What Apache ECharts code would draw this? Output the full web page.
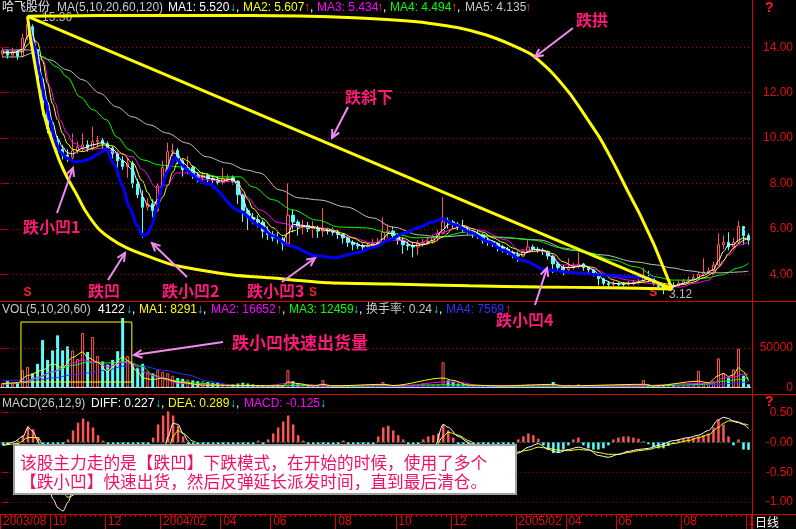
<!DOCTYPE html>
<html><head><meta charset="utf-8">
<script src="https://cdn.jsdelivr.net/npm/echarts@6/dist/echarts.min.js"></script>
<style>html,body{margin:0;padding:0;background:#000;}#c{width:796px;height:529px;}</style>
</head><body><div id="c"></div>
<script>
// ---- price bars: [open, close, low, high] ----
const ohlc = [
[13.7,13.85,13.55,13.95],[13.85,13.65,13.5,13.9],[13.65,13.8,13.55,14.0],[13.8,13.6,13.45,13.9],[13.6,14.4,13.55,14.6],
[14.5,15.0,14.3,15.36],[14.9,14.0,13.7,15.0],[13.9,12.6,12.4,13.9],[12.6,11.3,11.0,12.7],[11.3,10.4,10.2,11.5],
[10.4,9.9,9.7,10.7],[9.9,9.5,9.3,10.1],[9.5,9.25,9.05,9.7],[9.25,9.15,8.95,9.5],[9.15,9.45,9.0,10.2],
[9.45,9.6,9.3,9.85],[9.6,9.7,9.4,10.2],[9.7,9.55,9.4,9.9],[9.55,9.85,9.45,10.5],[9.85,9.9,9.6,10.1],
[9.9,9.75,9.55,10.0],[9.75,9.55,9.4,9.85],[9.55,9.3,9.1,9.65],[9.3,9.0,8.45,9.4],[9.0,8.75,8.6,9.2],
[8.75,8.9,8.25,9.1],[8.9,8.0,7.8,9.0],[8.0,7.5,7.35,8.2],[7.4,6.95,5.6,7.7],[6.95,7.1,6.8,7.35],
[7.1,6.8,6.5,7.3],[6.8,7.9,6.75,8.0],[7.9,8.7,7.8,9.0],[8.7,9.4,8.6,9.8],[9.4,9.45,9.2,9.75],
[9.45,9.0,8.85,9.55],[9.0,8.6,8.3,9.1],[8.6,8.7,8.4,9.2],[8.7,8.35,8.2,8.8],[8.35,8.25,8.05,8.5],
[8.25,8.35,8.1,8.5],[8.35,8.2,8.05,8.45],[8.2,8.15,8.0,8.35],[8.15,8.05,7.95,8.3],[8.05,8.2,7.95,8.7],
[8.2,8.25,8.05,8.4],[8.25,8.1,7.95,8.35],[8.1,7.5,7.1,8.15],[7.5,6.8,6.3,7.5],[6.8,6.5,5.95,6.9],
[6.5,6.4,6.2,6.7],[6.4,6.3,6.05,6.6],[6.3,5.9,5.6,6.4],[5.9,5.75,5.5,6.1],[5.75,5.6,5.45,5.9],
[5.6,5.55,5.35,5.85],[5.55,5.35,5.05,5.65],[5.35,6.6,5.3,8.0],[6.6,6.3,5.85,6.85],[6.3,6.1,5.7,6.4],
[6.1,6.15,5.75,6.4],[6.15,6.0,5.85,6.3],[6.0,6.05,5.6,6.35],[6.05,5.9,5.6,6.15],[5.9,6.0,5.65,6.9],
[6.0,5.9,5.75,6.05],[5.9,5.85,5.7,6.05],[5.85,5.75,5.55,5.95],[5.75,5.6,5.35,5.8],[5.6,5.4,5.2,5.65],
[5.4,5.3,5.05,5.5],[5.3,5.25,5.1,5.4],[5.25,5.2,5.0,5.35],[5.2,5.25,5.1,5.35],[5.25,5.35,5.15,5.55],
[5.35,5.4,5.2,5.6],[5.4,5.85,5.35,6.5],[5.85,5.9,5.6,6.2],[5.9,5.7,5.55,6.1],[5.7,5.5,5.3,5.8],
[5.5,5.3,4.9,5.6],[5.3,5.25,5.05,5.45],[5.25,5.2,4.75,5.4],[5.2,5.35,4.85,5.5],[5.35,5.4,5.2,5.55],
[5.4,5.45,5.3,5.6],[5.45,5.6,5.35,5.75],[5.6,5.8,5.5,5.95],[5.8,6.3,5.75,7.4],[6.35,6.3,6.0,6.5],
[6.3,6.2,6.0,6.4],[6.2,6.1,5.95,6.3],[6.1,6.0,5.85,6.4],[6.0,5.9,5.75,6.1],[5.9,5.8,5.6,6.0],
[5.8,5.75,5.55,5.9],[5.75,5.5,5.35,5.8],[5.5,5.4,5.25,5.6],[5.4,5.35,5.2,5.5],[5.35,5.2,5.0,5.4],
[5.2,5.1,4.95,5.3],[5.1,4.95,4.85,5.2],[4.95,4.85,4.7,5.05],[4.85,4.8,4.55,5.0],[4.8,5.0,4.75,5.1],
[5.0,5.2,4.95,5.5],[5.2,5.1,5.0,5.3],[5.1,5.05,4.95,5.2],[5.05,5.0,4.85,5.15],[5.0,4.8,4.65,5.05],
[4.8,4.45,4.05,4.85],[4.45,4.3,4.1,4.55],[4.3,4.2,3.95,4.4],[4.2,4.3,4.1,4.7],[4.3,4.35,4.2,4.5],
[4.35,4.45,4.25,4.95],[4.45,4.3,4.15,4.5],[4.3,4.2,4.05,4.35],[4.2,4.0,3.9,4.25],[4.0,3.8,3.5,4.05],
[3.8,3.6,3.5,3.85],[3.6,3.55,3.45,3.7],[3.55,3.6,3.45,3.7],[3.6,3.55,3.45,3.65],[3.58,3.55,3.45,3.65],
[3.55,3.6,3.5,3.7],[3.6,3.65,3.5,3.75],[3.65,3.7,3.55,3.8],[3.7,3.85,3.65,4.3],[3.85,3.8,3.65,4.15],
[3.8,3.6,3.5,3.85],[3.6,3.45,3.35,3.65],[3.45,3.35,3.12,3.5],[3.35,3.5,3.25,3.6],[3.52,3.5,3.4,3.65],
[3.5,3.6,3.45,3.7],[3.6,3.7,3.55,3.8],[3.7,3.75,3.6,3.9],[3.75,3.85,3.7,4.0],[3.85,4.0,3.8,4.1],
[4.0,4.1,3.9,4.7],[4.1,4.15,4.0,4.3],[4.15,4.4,4.1,4.55],[4.4,5.3,4.35,5.8],[5.3,5.4,5.1,5.7],
[5.4,5.2,5.05,5.85],[5.2,5.4,5.1,5.6],[5.4,6.1,5.35,6.35],[6.1,5.7,5.3,6.1],[5.7,5.5,5.3,5.8]
];
// ---- price moving averages, read as [bar, value] ----
const ma1 = [[0,13.8],[2,13.75],[4,13.9],[5,14.5],[6,14.6],[7,13.7],[8,12.6],[9,11.6],[10,10.7],[11,10.0],[12,9.6],[13,9.35],[14,9.3],[16,9.55],[18,9.7],[20,9.8],[22,9.5],[24,9.0],[26,8.6],[27,8.1],[28,7.4],[29,7.05],[30,6.95],[31,7.3],[32,8.0],[33,8.8],[34,9.35],[35,9.3],[36,8.9],[38,8.55],[40,8.3],[42,8.2],[44,8.1],[46,8.2],[47,7.9],[48,7.3],[49,6.8],[50,6.5],[52,6.2],[54,5.75],[56,5.5],[57,5.8],[58,6.2],[60,6.15],[62,6.05],[64,5.95],[66,5.9],[68,5.7],[70,5.4],[72,5.25],[74,5.25],[76,5.55],[77,5.8],[78,5.8],[80,5.45],[82,5.25],[84,5.3],[86,5.5],[88,5.95],[89,6.2],[90,6.25],[92,6.1],[94,5.9],[96,5.7],[98,5.45],[100,5.2],[102,4.95],[104,4.85],[105,5.0],[106,5.1],[108,5.05],[110,4.75],[111,4.45],[112,4.3],[114,4.3],[116,4.4],[118,4.2],[119,4.0],[120,3.75],[122,3.6],[124,3.57],[126,3.6],[128,3.72],[129,3.8],[130,3.75],[132,3.45],[134,3.45],[136,3.6],[138,3.75],[140,3.95],[142,4.2],[143,4.6],[144,5.0],[145,5.3],[146,5.3],[147,5.5],[148,5.6],[149,5.52]];
const ma2 = [[0,13.75],[4,13.8],[5,14.1],[6,14.4],[7,14.2],[8,13.4],[9,12.4],[10,11.5],[11,10.8],[12,10.2],[13,9.75],[14,9.5],[16,9.4],[18,9.55],[20,9.7],[22,9.65],[24,9.3],[26,8.9],[28,8.1],[29,7.6],[30,7.2],[31,7.05],[32,7.4],[33,7.9],[34,8.5],[35,8.95],[36,9.1],[37,9.0],[38,8.75],[40,8.45],[42,8.3],[44,8.2],[46,8.15],[47,8.05],[48,7.7],[49,7.3],[50,6.9],[52,6.45],[54,6.05],[56,5.7],[58,5.9],[60,6.1],[62,6.1],[64,6.0],[66,5.95],[68,5.8],[70,5.6],[72,5.4],[74,5.3],[76,5.4],[78,5.6],[80,5.6],[82,5.4],[84,5.3],[86,5.4],[88,5.65],[90,6.0],[92,6.15],[94,6.0],[96,5.85],[98,5.6],[100,5.4],[102,5.15],[104,4.95],[106,5.0],[108,5.05],[110,4.9],[112,4.55],[114,4.35],[116,4.35],[118,4.3],[120,4.0],[122,3.75],[124,3.62],[126,3.6],[128,3.65],[130,3.72],[132,3.6],[134,3.5],[136,3.55],[138,3.65],[140,3.85],[142,4.05],[143,4.3],[144,4.6],[145,4.9],[146,5.15],[147,5.35],[148,5.5],[149,5.607]];
const ma3 = [[0,13.88],[5.5,13.88],[8.1,13.44],[9.5,12.25],[10.5,11.54],[11.5,10.79],[12.9,10.22],[14.1,9.78],[16.9,9.48],[20.1,9.56],[22.8,9.34],[26,9.17],[28,8.6],[30.8,7.8],[32.8,7.93],[34.8,8.46],[37.4,8.46],[40.8,8.15],[46,8.07],[48.8,7.41],[51.4,6.83],[55.4,6.26],[59.4,6.08],[63.9,6.04],[69.3,5.64],[73.9,5.38],[78.7,5.51],[83.3,5.38],[87.3,5.82],[91.3,6.08],[95.3,5.95],[100.6,5.51],[103.2,5.07],[106.6,5.07],[109.2,4.94],[111.8,4.41],[115.2,4.41],[118.6,4.19],[121.8,3.88],[125.2,3.74],[128.6,3.61],[131.8,3.52],[135.2,3.43],[138.5,3.61],[141.1,3.74],[143.1,4.32],[145.1,4.85],[147.1,5.29],[149,5.434]];
const ma4 = [[0,13.88],[5.5,13.88],[8.1,13.57],[10.9,13.13],[12.9,12.69],[15.5,11.81],[18.1,11.24],[20.8,10.8],[22.8,10.05],[25.4,9.48],[28,9.04],[31.4,8.81],[35.4,8.73],[39.4,8.46],[43.4,8.29],[47.4,8.29],[50,7.85],[54,7.28],[58,6.83],[62.7,6.39],[67.3,6.08],[72.7,6.04],[77.3,5.82],[82.7,5.6],[87.3,5.64],[92.7,5.86],[99.2,5.64],[105.8,5.51],[111.8,5.16],[117.2,4.94],[121.8,4.63],[126.6,4.32],[130.6,3.88],[133.7,3.74],[137.1,3.74],[140.5,3.83],[143.7,3.97],[147.1,4.28],[149,4.494]];
const ma5 = [[0,13.57],[3.5,13.57],[6.1,13.75],[9.5,13.44],[12.9,13.0],[16.1,12.56],[19.4,11.98],[22.8,11.37],[26,10.93],[29.4,10.58],[32.8,10.22],[36.8,9.78],[40.8,9.17],[44.8,8.9],[48.8,8.59],[51.4,8.46],[55.4,7.71],[59.3,7.36],[63.3,7.27],[68.7,6.96],[73.9,6.48],[77.9,6.08],[83.3,5.73],[87.3,5.64],[93.9,5.73],[100.6,5.6],[107.2,5.51],[113.2,5.07],[119.8,4.85],[126.6,4.54],[130.6,4.41],[133.7,4.28],[137.1,4.15],[140.5,4.06],[143.7,4.06],[147.1,4.1],[149,4.135]];
// ---- volume ----
const volume = [6000,8000,5000,7000,22000,26000,18000,30000,60000,35000,47000,66000,47000,52000,47000,36000,69000,45000,64000,40000,
33000,29000,35000,46000,88000,40000,30000,25000,30000,20000,18000,22000,20000,18000,15000,12000,11000,10000,9000,8000,
8000,7000,6000,6000,5000,4000,4000,5000,6000,5000,4000,3000,2500,3000,2500,2000,3000,22000,8000,5000,
4000,3000,3000,2500,9500,3000,2500,2000,2500,3000,2000,2500,2000,2000,2500,3000,7000,4000,3000,2500,
3000,2500,2000,2500,5000,3000,3500,4000,32000,9000,7000,5000,4000,3000,2500,2000,2500,2000,2000,2500,
2000,2000,2500,2000,3000,4000,2500,2000,2000,2500,7000,3000,2500,3500,3000,4000,2500,2000,2000,2500,
2000,1500,2000,1500,2000,3000,2000,2000,9500,4000,2500,2000,3000,2000,2500,2000,2500,3000,4000,21000,
6000,5000,8000,37000,18000,12000,23000,49000,15000,4122];
const vma1 = [[0,5000],[3,6000],[5,15000],[8,22000],[10,30000],[12,25000],[14,38000],[16,45000],[17,38000],[19,32000],[21,20000],[22,26000],[24,39000],[25,34000],[27,20000],[28,12000],[30,10000],[32,12000],[35,7000],[40,3000],[50,2500],[56,2000],[57,7000],[59,5000],[62,2000],[64,4000],[66,2000],[76,4000],[78,2500],[88,12000],[90,9000],[93,3000],[100,2000],[110,4000],[112,2000],[128,4000],[130,2000],[139,8000],[141,6000],[143,15000],[144,18000],[145,14000],[146,16000],[147,25000],[148,20000],[149,8291]];
const vma2 = [[0,4000],[4,6000],[7,13000],[10,20000],[14,31000],[16,35000],[19,31000],[21,26000],[24,32000],[26,30000],[28,20000],[31,13000],[35,5500],[42,2500],[52,2000],[57,5000],[60,4000],[65,2000],[76,3000],[80,2000],[88,7000],[91,7000],[95,2500],[110,3000],[115,2000],[125,2000],[139,5000],[142,6000],[144,12000],[146,13000],[148,17000],[149,16652]];
const vma3 = [[0,4000],[4,6000],[7,12000],[10,20000],[14,28000],[17,32000],[21,31000],[25,33000],[28,26000],[30,16000],[33,9500],[39,5500],[46,2000],[60,2500],[70,2000],[90,3500],[100,2000],[130,2000],[140,4000],[144,8000],[147,10000],[149,12459]];
const vma4 = [[0,9000],[7,9500],[10,12000],[14,16000],[17,18500],[21,22000],[24,27000],[28,27000],[32,22000],[37,16000],[41,8000],[46,3000],[55,2000],[80,1500],[110,1500],[135,2000],[143,4000],[147,6000],[149,7569]];
// ---- MACD ----
const macdHist = [-0.05,-0.04,0.01,0.03,0.12,0.27,0.22,0.08,-0.3,-0.6,-0.75,-0.7,-0.5,0.05,0.2,0.33,0.4,0.35,0.25,0.12,
0.03,-0.1,-0.2,-0.3,-0.4,-0.5,-0.6,-0.7,-0.75,-0.5,0.08,0.3,0.45,0.52,0.45,0.28,0.1,-0.05,-0.08,-0.1,
-0.1,-0.12,-0.12,-0.1,-0.08,-0.06,-0.1,-0.3,-0.45,-0.5,-0.45,0.03,-0.2,0.05,0.15,0.25,0.35,0.45,0.3,0.12,
0.03,-0.05,-0.08,-0.1,-0.05,-0.08,-0.1,-0.12,0.03,-0.12,-0.1,-0.1,-0.08,-0.06,-0.03,0.1,0.25,0.28,0.2,0.12,
0.05,-0.05,-0.05,-0.03,0.05,0.1,0.12,0.15,0.3,0.2,0.08,-0.05,-0.1,-0.15,-0.15,-0.2,-0.2,-0.2,-0.2,-0.15,
-0.15,-0.1,-0.08,0.05,0.1,0.15,0.12,0.06,-0.05,-0.12,-0.18,-0.18,-0.12,-0.05,0.05,0.08,-0.05,-0.1,-0.12,-0.12,
-0.1,-0.05,0.05,0.08,0.1,0.1,0.08,0.06,0.02,-0.03,-0.08,-0.1,-0.1,-0.06,-0.02,0.04,0.06,0.08,0.08,0.1,
0.12,0.15,0.25,0.38,0.3,0.1,-0.05,0.05,-0.12,-0.125];
const diffLine = [[0,-0.05],[2,0.0],[4,0.1],[5,0.25],[6,0.18],[7,0.02],[8,-0.35],[9,-0.7],[10,-0.95],[11,-1.1],[12,-1.15],[13,-1.0],[14,-0.8],[16,-0.6],[18,-0.45],[20,-0.4],[22,-0.45],[24,-0.55],[26,-0.65],[28,-0.8],[30,-0.65],[32,-0.2],[33,0.1],[34,0.32],[35,0.3],[36,0.15],[37,0.02],[38,-0.1],[42,-0.2],[46,-0.25],[48,-0.5],[50,-0.7],[52,-0.8],[54,-0.7],[56,-0.5],[57,-0.2],[58,-0.25],[60,-0.3],[64,-0.3],[68,-0.35],[72,-0.4],[75,-0.35],[77,-0.2],[80,-0.25],[83,-0.3],[86,-0.15],[88,0.3],[89,0.25],[91,0.1],[93,0.0],[95,-0.1],[98,-0.2],[101,-0.3],[103,-0.18],[105,-0.08],[107,-0.02],[109,-0.12],[111,-0.17],[113,-0.12],[115,-0.08],[117,-0.12],[119,-0.22],[121,-0.25],[123,-0.2],[125,-0.15],[127,-0.12],[129,-0.1],[131,-0.05],[134,0.03],[137,0.08],[139,0.12],[141,0.2],[143,0.38],[144,0.42],[145,0.4],[146,0.35],[147,0.33],[148,0.3],[149,0.227]];
const deaLine = [[0,-0.05],[3,-0.02],[5,0.08],[7,0.08],[9,-0.3],[11,-0.7],[13,-0.92],[15,-0.85],[18,-0.7],[21,-0.55],[25,-0.55],[28,-0.7],[30,-0.7],[32,-0.5],[33,-0.15],[34,0.1],[35,0.2],[36,0.15],[38,0.02],[40,-0.1],[44,-0.2],[48,-0.3],[50,-0.45],[52,-0.6],[54,-0.65],[56,-0.55],[58,-0.35],[60,-0.3],[66,-0.3],[72,-0.35],[76,-0.33],[80,-0.27],[84,-0.25],[86,-0.15],[88,0.1],[89,0.17],[91,0.12],[93,0.03],[95,-0.05],[98,-0.15],[101,-0.22],[103,-0.16],[105,-0.13],[107,-0.08],[109,-0.1],[111,-0.13],[113,-0.14],[115,-0.12],[117,-0.13],[119,-0.17],[121,-0.2],[123,-0.2],[125,-0.17],[127,-0.14],[129,-0.12],[131,-0.08],[134,-0.02],[137,0.03],[139,0.08],[141,0.13],[143,0.25],[144,0.32],[145,0.36],[146,0.36],[147,0.34],[148,0.31],[149,0.289]];
// ---- axis ticks / labels ----
const priceTicks = [4,6,8,10,12,14];
const volTicks = [0,50000];
const macdTicks = [-1,-0.5,0,0.5];
const monthLabels = ['2003/08','10','12','2004/02','04','06','08','10','12','2005/02','04','06','08','10'];
const monthIdx = [0,10,21,32,44,54,67,79,90,103,113,123,136,149];
// ---- drawn annotations, traced as [bar, price] ----
const archCurve = [[5,15.36],[11.47,15.38],[19.45,15.4],[39.39,15.4],[59.34,15.38],[71.31,15.29],[83.28,15.11],[91.26,14.85],[96.64,14.54],[101.23,14.15],[105.82,13.66],[109.61,12.91],[113.2,11.99],[115.19,11.37],[117.19,10.71],[119.18,10.05],[121.18,9.26],[122.77,8.59],[124.77,7.71],[127.16,6.7],[128.76,5.95],[130.15,5.29],[131.95,4.32],[133.74,3.35]];
const slopeLine = [[5,15.36],[133.74,3.35]];
const bowlCurve = [[5,15.36],[5.48,14.55],[6.08,13.76],[7.08,12.47],[8.08,11.24],[9.07,10.44],[10.07,9.78],[11.47,8.95],[12.86,8.29],[14.86,7.49],[16.45,6.83],[19.05,6.04],[21.44,5.6],[24.83,5.16],[29.42,4.76],[34.01,4.41],[39.4,4.19],[45.98,3.97],[53.36,3.84],[65.33,3.62],[77.29,3.57],[93.25,3.49],[107.2,3.44],[121.2,3.4],[133.74,3.35]];
const blue1 = [[5,15.36],[6.28,14.09],[7.48,12.77],[8.48,11.67],[9.47,10.79],[10.47,9.91],[11.47,9.38],[12.87,9.12],[14.46,8.94],[16.06,8.99],[17.45,9.08],[19.05,9.3],[20.84,9.56]];
const blue2 = [[20.84,9.56],[22.44,8.81],[23.84,7.93],[25.43,6.92],[26.83,6.17],[28.03,5.69],[29.02,5.77],[29.82,6.17],[30.82,6.92],[31.82,7.8],[32.81,8.5],[34.41,9.17]];
const blue3 = [[34.41,9.17],[41,7.98],[47.37,6.79],[51.36,6.13],[53.96,5.69],[57.35,5.25],[62.73,4.81],[66.32,4.72],[70.71,4.94],[74.3,5.2],[77.29,5.51],[80.28,5.82],[83.28,6.08],[85.87,6.3],[87.86,6.48]];
const blue4 = [[87.86,6.48],[90.66,6.17],[93.25,5.86],[97.24,5.42],[99.83,5.07],[104.22,4.58],[108.61,4.19],[114.2,4.06],[119.78,3.97],[126.56,3.88],[130.15,3.83]];
const volBox = [[3.69,6960],[25.83,6960],[25.83,82900],[3.69,82900],[3.69,6960]];
const peakMark = [5,15.36];
const lowMark = [132,3.12];
const sellIdx = [5,62,130];

// ---------------------------------------------------------------
const N = ohlc.length;
const barIdx = ohlc.map((d,i)=>String(i));
const RED='#ff5454', CYAN='#54ffff', GRIDC='#b00000', AX='#d80000', LBL='#e01010';
const FONT='"Liberation Sans", "Noto Sans CJK SC", sans-serif';
const CJK='"Noto Sans CJK SC", sans-serif';
const PINK='#ff1a7a', ARW='#f08cf0';
const up = i => ohlc[i][1] >= ohlc[i][0];
const isMonth = (i) => monthIdx.indexOf(i) >= 0;

function yAx(gridIndex,min,max,ticks,fmt){
  return {type:'value', gridIndex, position:'right', min, max,
    axisLine:{show:false}, splitLine:{show:false},
    axisTick:{show:true, customValues:ticks, length:5, lineStyle:{color:AX}},
    axisLabel:{show:true, customValues:ticks, formatter:fmt, color:LBL, fontSize:12, fontFamily:FONT, align:'right', margin:42}};
}
function gl(items){
  return {silent:true, symbol:'none', animation:false, label:{show:false},
    lineStyle:{color:GRIDC, type:[1,3], width:1}, data:items};
}
function ln(data, color, xi, yi, width, z, smooth, mono){
  return {type:'line', xAxisIndex:xi, yAxisIndex:yi, data, showSymbol:false, symbol:'none', silent:true,
    smooth: smooth===undefined?0.35:smooth, smoothMonotone: mono===false?null:'x', z, lineStyle:{color, width}};
}
const hidCat = g => ({type:'category', gridIndex:g, data:barIdx, show:false, axisLine:{onZero:false}});
const hidVal = g => ({type:'value', gridIndex:g, min:-0.5, max:N-0.5, show:false, axisLine:{onZero:false}});

function txt(x,y,t,c,font){ return {type:'text', x, y, z:100, silent:true, style:{text:t, fill:c, font:font||('12px '+FONT), verticalAlign:'middle', align:'left'}}; }
const W='#ffffff', G='#c8c8c8', Y='#ffff00', M='#ff00ff', GR='#00ff00', DN='#00e8ff', UP='#ff4040', BL='#3030ff';
const headers = [
  [2,8,'哈飞股份','#e8e8e8'],[57,8,'MA(5,10,20,60,120)',G],[168,8,'MA1: 5.520',W],[230,8,'↓',DN],[236,8,',',W],
  [243,8,'MA2: 5.607',Y],[304,8,'↑',UP],[310,8,',',W],[317,8,'MA3: 5.434',M],[377,8,'↑',UP],[383,8,',',W],
  [390,8,'MA4: 4.494',GR],[451,8,'↑',UP],[457,8,',',W],[465,8,'MA5: 4.135',G],[525,8,'↑',UP],
  [2,310,'VOL(5,10,20,60)',G],[98,310,'4122',W],[126,310,'↓',DN],[132,310,',',W],[139,310,'MA1: 8291',Y],[197,310,'↓',DN],[203,310,',',W],
  [211,310,'MA2: 16652',M],[276,310,'↑',UP],[282,310,',',W],[289,310,'MA3: 12459',GR],[353,310,'↓',DN],[359,310,',',W],
  [366,310,'换手率: 0.24',G],[433,310,'↓',DN],[439,310,',',W],[446,310,'MA4: 7569',BL],[505,310,'↑',UP],
  [2,404,'MACD(26,12,9)',G],[91,404,'DIFF: 0.227',W],[155,404,'↓',DN],[161,404,',',W],[168,404,'DEA: 0.289',Y],[230,404,'↓',DN],[236,404,',',W],
  [244,404,'MACD: -0.125',M],[320,404,'↓',DN]
];
const annoText = [['跌拱',576,20,16],['跌斜下',345,97,16],['跌小凹1',23,227,16],['跌凹',88,291,16],['跌小凹2',162,291,16],['跌小凹3',247,291,16],['跌小凹4',496,320,16],['跌小凹快速出货量',232,343,17]];
const arrows = [[573,28,535,57],[348,107,332,138],[57,213,73,168],[108,280,125,253],[187,277,152,243],[282,282,315,258],[535,305,547,268],[223,342,134,355]];
function arrow(a){
  const [x1,y1,x2,y2]=a, t=Math.atan2(y2-y1,x2-x1), L=9, w=0.45;
  return [{type:'line', z:100, silent:true, shape:{x1,y1,x2,y2}, style:{stroke:ARW, lineWidth:2}},
    {type:'polyline', z:100, silent:true, shape:{points:[[x2-L*Math.cos(t-w), y2-L*Math.sin(t-w)],[x2,y2],[x2-L*Math.cos(t+w), y2-L*Math.sin(t+w)]]}, style:{stroke:ARW, lineWidth:2, fill:null}}];
}
const sep = (x1,y1,x2,y2)=>({type:'line', z:90, silent:true, shape:{x1,y1,x2,y2}, style:{stroke:'#d80000', lineWidth:1}});

const graphic = [
  sep(0,301.5,796,301.5), sep(0,394.5,796,394.5), sep(752,514.5,796,514.5), sep(752.5,0,752.5,529),
  {type:'rect', z:95, silent:true, shape:{x:754,y:516,width:42,height:13}, style:{fill:'#000'}},
  txt(755,522.5,'日线',W,'12px '+CJK),
  txt(765,8,'?', '#ff2020', 'bold 14px '+FONT),
  txt(765,402,'?', '#ff2020', 'bold 14px '+FONT),
  ...headers.map(h=>txt(h[0],h[1],h[2],h[3])),
  ...annoText.map(a=>txt(a[1],a[2],a[0],PINK,'bold '+a[3]+'px '+CJK)),
  ...arrows.flatMap(arrow),
  {type:'rect', z:100, silent:true, shape:{x:14,y:445,width:502,height:49}, style:{fill:'#ffffff', stroke:'#a0a0a0', lineWidth:2}},
  txt(20,463,'该股主力走的是【跌凹】下跌模式，在开始的时候，使用了多个','#f0106a','16.7px '+CJK),
  txt(20,482,'【跌小凹】快速出货，然后反弹延长派发时间，直到最后清仓。','#f0106a','16.7px '+CJK)
];

const option = {
  backgroundColor:'#000', animation:false,
  textStyle:{fontFamily:FONT},
  grid:[
    {left:0, top:0, width:752, height:301},
    {left:0, top:318, width:752, height:69.5},
    {left:0, top:397, width:752, height:117}
  ],
  xAxis:[
    hidCat(0), hidVal(0), hidCat(1), hidVal(1),
    {type:'category', gridIndex:2, data:barIdx, position:'bottom',
      axisLine:{show:true, onZero:false, lineStyle:{color:AX}},
      axisTick:{show:true, interval:isMonth, length:15, lineStyle:{color:AX}},
      axisLabel:{show:true, interval:isMonth, formatter:(v,i)=>monthLabels[monthIdx.indexOf(Number(v))] || '', color:LBL, fontSize:12, fontFamily:FONT, align:'left', margin:2},
      splitLine:{show:false}},
    hidVal(2),
    {type:'category', gridIndex:2, data:barIdx, position:'bottom', axisLine:{show:false, onZero:false},
      axisLabel:{show:false}, axisTick:{show:true, interval:0, length:3, lineStyle:{color:AX}}, splitLine:{show:false}}
  ],
  yAxis:[
    yAx(0,2.82,16.08,priceTicks,v=>v.toFixed(2)),
    yAx(1,0,88000,volTicks,v=>String(v)),
    yAx(2,-1.2,0.76,macdTicks,v=>(Math.abs(v)<1e-9?'-0.00':v.toFixed(2)))
  ],
  series:[
    {type:'candlestick', xAxisIndex:0, yAxisIndex:0, data:ohlc, barWidth:'60%', z:2, silent:true,
      itemStyle:{color:'#000', color0:CYAN, borderColor:RED, borderColor0:CYAN, borderWidth:1},
      markLine: gl(priceTicks.map(v=>({yAxis:v}))),
      markPoint:{silent:true, animation:false, symbol:'circle', symbolSize:1, itemStyle:{color:'rgba(0,0,0,0)'},
        data:[
          {name:'15.36', coord:peakMark, label:{show:true, position:'right', offset:[9,1], color:'#b8b8b8', fontSize:12, fontFamily:FONT, formatter:'{b}'}},
          {name:'3.12', coord:lowMark, label:{show:true, position:'right', offset:[0,0], color:'#b8b8b8', fontSize:12, fontFamily:FONT, formatter:'{b}'}},
          ...sellIdx.map(i=>({name:'S', coord:[i,3.17], label:{show:true, position:'inside', color:'#ff2020', fontSize:12, fontWeight:'bold', fontFamily:FONT, formatter:'{b}'}}))
        ]}},
    ln(ma5,'#c0c0c0',1,0,1,3), ln(ma4,'#00ff00',1,0,1,3), ln(ma3,'#ff00ff',1,0,1,3), ln(ma2,'#ffff00',1,0,1,3), ln(ma1,'#ffffff',1,0,1,3),
    ln(blue1,'#0000ff',1,0,3,5,0.3), ln(blue2,'#0000ff',1,0,3,5,0.3), ln(blue3,'#0000ff',1,0,3,5,0.3), ln(blue4,'#0000ff',1,0,3,5,0.3),
    ln(archCurve,'#ffff00',1,0,3,6,0.15,false), ln(slopeLine,'#ffff00',1,0,3,6,0), ln(bowlCurve,'#ffff00',1,0,3,6,0.25,false),
    {type:'bar', xAxisIndex:2, yAxisIndex:1, barWidth:'60%', z:2, silent:true,
      data: volume.map((v,i)=>({value:v, itemStyle: up(i)?{color:'#000', borderColor:RED, borderWidth:1}:{color:CYAN}})),
      markLine: gl([{yAxis:50000},{yAxis:0, lineStyle:{color:'#d0d0d0', type:'solid', width:1}}])},
    ln(vma4,BL,3,1,1,3,0.3), ln(vma3,'#00ff00',3,1,1,3,0.3), ln(vma2,'#ff00ff',3,1,1,3,0.3), ln(vma1,'#ffff00',3,1,1,3,0.3),
    ln(volBox,'#ffff00',3,1,1,6,0),
    {type:'bar', xAxisIndex:4, yAxisIndex:2, barWidth:'50%', z:2, silent:true,
      data: macdHist.map(v=>({value:v, itemStyle:{color: v>=0?RED:CYAN}})),
      markLine: gl([{yAxis:0.5},{yAxis:-0.5},{yAxis:-1},{yAxis:0, lineStyle:{color:'#20a8a8', type:[1,3], width:1}}])},
    ln(deaLine,'#ffff00',5,2,1,3,0.3), ln(diffLine,'#ffffff',5,2,1,3,0.3)
  ],
  graphic: graphic
};
const chart = echarts.init(document.getElementById('c'));
chart.setOption(option);
</script>
</body></html>
